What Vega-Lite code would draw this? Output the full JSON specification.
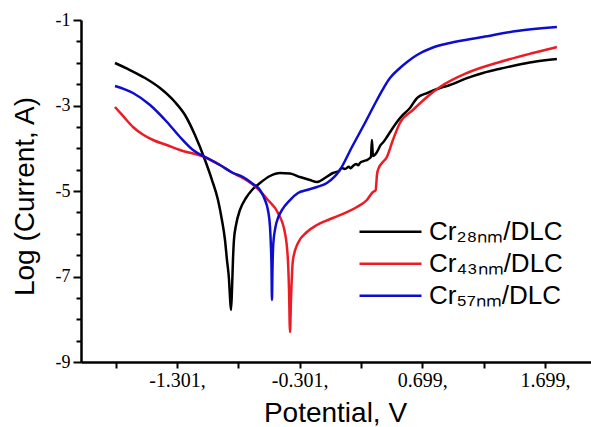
{
  "$schema": "https://vega.github.io/schema/vega-lite/v6.json",
  "width": 510,
  "height": 342,
  "autosize": {"type": "none"},
  "padding": {"left": 81, "top": 20, "right": 0, "bottom": 65},
  "background": "white",
  "config": {"view": {"stroke": null}},
  "datasets": {
    "black": [
      {"x": -1.807, "y": -2.006}, {"x": -1.685, "y": -2.17}, {"x": -1.562, "y": -2.357}, {"x": -1.44, "y": -2.591},
      {"x": -1.318, "y": -2.918}, {"x": -1.236, "y": -3.222}, {"x": -1.155, "y": -3.69}, {"x": -1.073, "y": -4.275},
      {"x": -1.016, "y": -4.743}, {"x": -0.967, "y": -5.211}, {"x": -0.935, "y": -5.678}, {"x": -0.91, "y": -6.146},
      {"x": -0.894, "y": -6.614}, {"x": -0.877, "y": -7.082}, {"x": -0.869, "y": -7.503}, {"x": -0.861, "y": -7.784},
      {"x": -0.853, "y": -7.316}, {"x": -0.845, "y": -6.614}, {"x": -0.837, "y": -6.146}, {"x": -0.82, "y": -5.795},
      {"x": -0.788, "y": -5.444}, {"x": -0.739, "y": -5.164}, {"x": -0.69, "y": -4.977}, {"x": -0.625, "y": -4.813},
      {"x": -0.543, "y": -4.649}, {"x": -0.462, "y": -4.579}, {"x": -0.38, "y": -4.59}, {"x": -0.299, "y": -4.673},
      {"x": -0.217, "y": -4.743}, {"x": -0.16, "y": -4.789}, {"x": -0.095, "y": -4.696}, {"x": -0.03, "y": -4.579},
      {"x": 0.02, "y": -4.53}, {"x": 0.04, "y": -4.46}, {"x": 0.068, "y": -4.485}, {"x": 0.1, "y": -4.43},
      {"x": 0.115, "y": -4.47}, {"x": 0.133, "y": -4.415}, {"x": 0.16, "y": -4.37}, {"x": 0.175, "y": -4.4},
      {"x": 0.19, "y": -4.345}, {"x": 0.22, "y": -4.3}, {"x": 0.247, "y": -4.275}, {"x": 0.272, "y": -4.228},
      {"x": 0.28, "y": -4.2}, {"x": 0.288, "y": -3.807}, {"x": 0.296, "y": -4.181}, {"x": 0.329, "y": -4.088},
      {"x": 0.36, "y": -3.92}, {"x": 0.38, "y": -3.86}, {"x": 0.41, "y": -3.737}, {"x": 0.45, "y": -3.56},
      {"x": 0.492, "y": -3.386}, {"x": 0.54, "y": -3.22}, {"x": 0.598, "y": -3.058}, {"x": 0.655, "y": -2.825},
      {"x": 0.737, "y": -2.708}, {"x": 0.843, "y": -2.59}, {"x": 0.924, "y": -2.52}, {"x": 1.063, "y": -2.36},
      {"x": 1.193, "y": -2.24}, {"x": 1.332, "y": -2.14}, {"x": 1.47, "y": -2.053}, {"x": 1.601, "y": -1.982},
      {"x": 1.796, "y": -1.912}
    ],
    "red": [
      {"x": -1.807, "y": -3.035}, {"x": -1.74, "y": -3.25}, {"x": -1.66, "y": -3.503}, {"x": -1.58, "y": -3.68},
      {"x": -1.497, "y": -3.807}, {"x": -1.38, "y": -3.93}, {"x": -1.277, "y": -4.041},
      {"x": -1.057, "y": -4.228}, {"x": -0.951, "y": -4.392}, {"x": -0.845, "y": -4.579}, {"x": -0.763, "y": -4.7},
      {"x": -0.649, "y": -4.93}, {"x": -0.56, "y": -5.211}, {"x": -0.478, "y": -5.515}, {"x": -0.421, "y": -5.982},
      {"x": -0.397, "y": -6.614}, {"x": -0.388, "y": -7.316}, {"x": -0.38, "y": -8.298}, {"x": -0.372, "y": -7.55},
      {"x": -0.356, "y": -6.614}, {"x": -0.315, "y": -6.216}, {"x": -0.242, "y": -5.959}, {"x": -0.16, "y": -5.795},
      {"x": -0.03, "y": -5.632}, {"x": 0.08, "y": -5.5}, {"x": 0.166, "y": -5.374}, {"x": 0.247, "y": -5.211},
      {"x": 0.296, "y": -5.023}, {"x": 0.318, "y": -4.98}, {"x": 0.33, "y": -4.6}, {"x": 0.345, "y": -4.45},
      {"x": 0.37, "y": -4.345}, {"x": 0.41, "y": -4.205}, {"x": 0.459, "y": -3.807}, {"x": 0.516, "y": -3.409},
      {"x": 0.622, "y": -3.105}, {"x": 0.737, "y": -2.801}, {"x": 0.843, "y": -2.567}, {"x": 1.063, "y": -2.24},
      {"x": 1.332, "y": -1.982}, {"x": 1.601, "y": -1.772}, {"x": 1.796, "y": -1.632}
    ],
    "blue": [
      {"x": -1.807, "y": -2.544}, {"x": -1.66, "y": -2.708}, {"x": -1.521, "y": -2.988}, {"x": -1.383, "y": -3.386},
      {"x": -1.277, "y": -3.737}, {"x": -1.171, "y": -4.041}, {"x": -1.057, "y": -4.228}, {"x": -0.951, "y": -4.392},
      {"x": -0.845, "y": -4.579}, {"x": -0.763, "y": -4.673}, {"x": -0.682, "y": -4.836}, {"x": -0.625, "y": -4.977},
      {"x": -0.584, "y": -5.211}, {"x": -0.56, "y": -5.444}, {"x": -0.543, "y": -5.842}, {"x": -0.536, "y": -6.263},
      {"x": -0.531, "y": -6.731}, {"x": -0.527, "y": -7.55}, {"x": -0.523, "y": -6.848}, {"x": -0.517, "y": -6.263},
      {"x": -0.5, "y": -5.865}, {"x": -0.478, "y": -5.632}, {"x": -0.445, "y": -5.444}, {"x": -0.38, "y": -5.211},
      {"x": -0.315, "y": -5.047}, {"x": -0.242, "y": -4.977}, {"x": -0.16, "y": -4.906}, {"x": -0.079, "y": -4.813},
      {"x": 0.027, "y": -4.509}, {"x": 0.125, "y": -3.971}, {"x": 0.231, "y": -3.409}, {"x": 0.329, "y": -2.871},
      {"x": 0.435, "y": -2.357}, {"x": 0.516, "y": -2.123}, {"x": 0.58, "y": -1.97}, {"x": 0.655, "y": -1.819},
      {"x": 0.78, "y": -1.65}, {"x": 0.924, "y": -1.538},
      {"x": 1.193, "y": -1.398}, {"x": 1.47, "y": -1.257}, {"x": 1.796, "y": -1.164}
    ]
  },
  "layer": [
    {
      "data": {"name": "black"},
      "transform": [{"calculate": "'Cr28nm/DLC'", "as": "sample"}],
      "mark": {"type": "line", "strokeWidth": 2.5, "interpolate": "monotone"},
      "encoding": {
        "x": {"field": "x", "type": "quantitative"},
        "y": {"field": "y", "type": "quantitative"},
        "color": {"field": "sample", "type": "nominal"}
      }
    },
    {
      "data": {"name": "red"},
      "transform": [{"calculate": "'Cr43nm/DLC'", "as": "sample"}],
      "mark": {"type": "line", "strokeWidth": 2.5, "interpolate": "monotone"},
      "encoding": {
        "x": {"field": "x", "type": "quantitative"},
        "y": {"field": "y", "type": "quantitative"},
        "color": {"field": "sample", "type": "nominal"}
      }
    },
    {
      "data": {"name": "blue"},
      "transform": [{"calculate": "'Cr57nm/DLC'", "as": "sample"}],
      "mark": {"type": "line", "strokeWidth": 2.5, "interpolate": "monotone"},
      "encoding": {
        "x": {"field": "x", "type": "quantitative"},
        "y": {"field": "y", "type": "quantitative"},
        "color": {"field": "sample", "type": "nominal"}
      }
    }
  ],
  "encoding": {
    "x": {
      "field": "x", "type": "quantitative",
      "scale": {"domain": [-2.084, 2.074], "nice": false, "zero": false},
      "axis": {
        "title": "Potential, V",
        "values": [-1.801, -1.301, -0.801, -0.301, 0.199, 0.699, 1.199, 1.699],
        "labelExpr": "round((datum.value + 1.801) * 2) % 2 == 1 ? (datum.value < 0 ? '-' + format(abs(datum.value), '.3f') : format(datum.value, '.3f')) + ',' : ''",
        "grid": false,
        "domainColor": "black", "domainWidth": 2.5,
        "tickColor": "black", "tickWidth": 2, "tickSize": 6,
        "labelFont": "Liberation Serif", "labelFontSize": 20, "labelColor": "black", "labelPadding": 2,
        "labelFlush": false, "labelOverlap": false,
        "titleFont": "Liberation Sans", "titleFontSize": 28, "titleFontWeight": "normal", "titleColor": "black",
        "titleBaseline": "alphabetic", "titleX": 254, "titleY": 59
      }
    },
    "y": {
      "field": "y", "type": "quantitative",
      "scale": {"domain": [-9, -1], "nice": false, "zero": false},
      "axis": {
        "title": "Log (Current, A)",
        "values": [-9, -8.5, -8, -7.5, -7, -6.5, -6, -5.5, -5, -4.5, -4, -3.5, -3, -2.5, -2, -1.5, -1],
        "labelExpr": "datum.value % 2 == -1 ? '-' + abs(datum.value) : ''",
        "grid": false,
        "domainColor": "black", "domainWidth": 2.5,
        "tickColor": "black", "tickWidth": 2,
        "tickSize": {"condition": {"test": "datum.value % 2 == -1", "value": 8}, "value": 5},
        "labelFont": "Liberation Serif", "labelFontSize": 18, "labelColor": "black", "labelPadding": 3,
        "labelFlush": false, "labelOverlap": false,
        "titleFont": "Liberation Sans", "titleFontSize": 28, "titleFontWeight": "normal", "titleColor": "black",
        "titleBaseline": "alphabetic", "titleX": -48, "titleY": 176, "titleAngle": -90
      }
    },
    "color": {
      "field": "sample", "type": "nominal",
      "scale": {"domain": ["Cr28nm/DLC", "Cr43nm/DLC", "Cr57nm/DLC"], "range": ["#000000", "#ec1c24", "#0d0dcf"]},
      "legend": {
        "title": null,
        "orient": "none", "legendX": 277, "legendY": 196,
        "symbolType": "stroke", "symbolSize": 3844, "symbolStrokeWidth": 2.5,
        "clipHeight": 31.7,
        "labelFont": "Liberation Sans", "labelFontSize": 26, "labelColor": "black", "labelOffset": 6,
        "labelExpr": "datum.label == 'Cr28nm/DLC' ? 'Cr₂₈ₙₘ/DLC' : datum.label == 'Cr43nm/DLC' ? 'Cr₄₃ₙₘ/DLC' : 'Cr₅₇ₙₘ/DLC'",
        "padding": 0, "rowPadding": 0, "labelLimit": 300
      }
    }
  }
}
